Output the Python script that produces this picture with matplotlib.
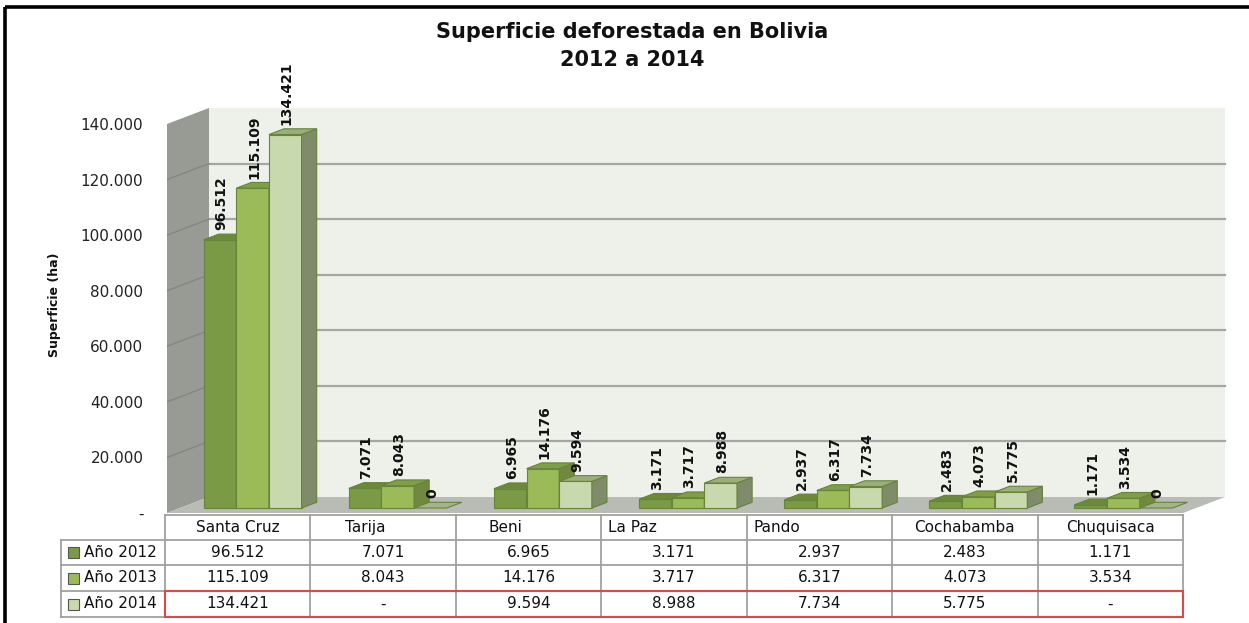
import matplotlib
matplotlib.use("Agg")
import matplotlib.pyplot as plt
from matplotlib.patches import Polygon, Rectangle

departamentos = ["Santa Cruz", "Tarija", "Beni", "La Paz", "Pando", "Cochabamba", "Chuquisaca"]
anios = ["Año 2012", "Año 2013", "Año 2014"]
sup_2012 = [96512, 7071, 6965, 3171, 2937, 2483, 1171]
sup_2013 = [115109, 8043, 14176, 3717, 6317, 4073, 3534]
sup_2014 = [134421, 0, 9594, 8988, 7734, 5775, 0]
y_ticks = [0, 20000, 40000, 60000, 80000, 100000, 120000, 140000]

titulo = "Superficie deforestada en Bolivia\n2012 a 2014"
eje_y = "Superficie (ha)"

# estilo
W, H = 1249, 623
front_col = ["#7b9a45", "#9bbb59", "#c8d9ad"]
top_col = ["#6a8a37", "#7f9f45", "#9aae78"]
side_col = ["#5f7a32", "#71893f", "#7f8b69"]
edge_col = "#66843a"
header_pad = ["center", 35, 33, 7, 7, "center", "center"]


def fmt(v):
    return f"{v:,}".replace(",", ".")


plt.rcParams["font.family"] = ["DejaVu Sans"]
fig = plt.figure(figsize=(W / 100, H / 100), dpi=100)

# capa en pixeles para marco, titulo y tabla
ov = fig.add_axes([0, 0, 1, 1])
ov.set_xlim(0, W)
ov.set_ylim(H, 0)
ov.axis("off")

# ejes principales: categorias en x, superficie en y
x_left, x_right, y_floor, y_top = 167, 1230, 513, 100
px_cat = (1183 - 167) / len(departamentos)
px_val = (513 - 124) / 140000
ax = fig.add_axes([x_left / W, (H - y_floor) / H, (x_right - x_left) / W, (y_floor - y_top) / H])
ax.set_xlim(0, (x_right - x_left) / px_cat)
ax.set_ylim(0, (y_floor - y_top) / px_val)
ax.patch.set_visible(False)
for s in ax.spines.values():
    s.set_visible(False)

DX = 42 / px_cat
DY = 16 / px_val
n = len(departamentos)
vmax = y_ticks[-1]

# paredes y piso
ax.add_patch(Polygon([(0, 0), (0, vmax), (DX, vmax + DY), (DX, DY)], closed=True,
                     facecolor="#989a94", edgecolor="none", zorder=1))
ax.add_patch(Polygon([(DX, DY), (n + DX, DY), (n + DX, vmax + DY), (DX, vmax + DY)], closed=True,
                     facecolor="#eef1ea", edgecolor="none", zorder=1))
ax.add_patch(Polygon([(0, 0), (n, 0), (n + DX, DY), (DX, DY)], closed=True,
                     facecolor="#b9bbb5", edgecolor="none", zorder=2))
for v in y_ticks[1:-1]:
    ax.plot([DX, n + DX], [v + DY, v + DY], color="#a6a6a6", lw=1.6, zorder=2)
    ax.plot([0, DX], [v, v + DY], color="#85877f", lw=1.0, zorder=2)

ax.set_xticks([])
ax.set_yticks(y_ticks)
ax.set_yticklabels(["-" if v == 0 else fmt(v) for v in y_ticks], fontsize=11, color="#222222")
ax.tick_params(axis="y", length=0, pad=17)

# barras 3D
series = [sup_2012, sup_2013, sup_2014]
bw = 0.225
f0, fb = 0.31, 0.36
ox, oy = f0 * DX, f0 * DY
bx, by = fb * DX, fb * DY
for i in range(n):
    for j, vals in enumerate(series):
        h = vals[i]
        x0 = i + 0.5 + (j - 1.5) * bw
        x1 = x0 + bw
        top = [(x0 + ox, h + oy), (x1 + ox, h + oy), (x1 + ox + bx, h + oy + by), (x0 + ox + bx, h + oy + by)]
        if h > 0:
            ax.add_patch(Polygon([(x0 + ox, oy), (x1 + ox, oy), (x1 + ox, h + oy), (x0 + ox, h + oy)],
                                 closed=True, facecolor=front_col[j], edgecolor=edge_col, lw=0.8, zorder=3))
            ax.add_patch(Polygon([(x1 + ox, oy), (x1 + ox + bx, oy + by), (x1 + ox + bx, h + oy + by), (x1 + ox, h + oy)],
                                 closed=True, facecolor=side_col[j], edgecolor=edge_col, lw=0.8, zorder=3))
            ax.add_patch(Polygon(top, closed=True, facecolor=top_col[j], edgecolor=edge_col, lw=0.8, zorder=3))
        else:
            ax.add_patch(Polygon(top, closed=True, facecolor="#a3b38a", edgecolor=edge_col, lw=0.8, zorder=3))
        ax.text(x0 + ox + bw / 2 + 0.1 * bx, h + oy + by + 1400, fmt(h), rotation=90,
                ha="center", va="bottom", fontsize=10, fontweight="bold", color="#111111", zorder=4)

# titulo y etiqueta de eje
ov.text(632, 46, titulo, ha="center", va="center", fontsize=15, fontweight="bold",
        color="#111111", linespacing=1.5)
ov.text(55, 305, eje_y, rotation=90, ha="center", va="center", fontsize=9, fontweight="bold", color="#111111")

# tabla de datos
tab_left, tab_right = 165, 1183
leg_left = 61
rows_y = [515, 539.5, 565, 591, 617]
cell_w = (tab_right - tab_left) / n
grid = "#a0a0a0"
ov.plot([tab_left, tab_right], [rows_y[0], rows_y[0]], color=grid, lw=1.3)
for k in range(1, 5):
    ov.plot([leg_left, tab_right], [rows_y[k], rows_y[k]], color=grid, lw=1.3)
ov.plot([leg_left, leg_left], [rows_y[1], rows_y[4]], color=grid, lw=1.3)
for i in range(n + 1):
    xx = tab_left + i * cell_w
    ov.plot([xx, xx], [rows_y[0], rows_y[4]], color=grid, lw=1.3)

for i, dep in enumerate(departamentos):
    cx = tab_left + i * cell_w
    yc = (rows_y[0] + rows_y[1]) / 2
    if header_pad[i] == "center":
        ov.text(cx + cell_w / 2, yc, dep, ha="center", va="center", fontsize=11, color="#111111")
    else:
        ov.text(cx + header_pad[i], yc, dep, ha="left", va="center", fontsize=11, color="#111111")
    for j, vals in enumerate(series):
        yc = (rows_y[j + 1] + rows_y[j + 2]) / 2
        txt = "-" if vals[i] == 0 else fmt(vals[i])
        ov.text(cx + cell_w / 2, yc, txt, ha="center", va="center", fontsize=11, color="#111111")

for j, name in enumerate(anios):
    yc = (rows_y[j + 1] + rows_y[j + 2]) / 2
    ov.add_patch(Rectangle((68, yc - 5.5), 11, 11, facecolor=front_col[j], edgecolor="#555555", lw=0.8))
    ov.text(84, yc, name, ha="left", va="center", fontsize=11, color="#111111")

# recuadro rojo de la fila 2014
ov.add_patch(Rectangle((tab_left, rows_y[3]), tab_right - tab_left, rows_y[4] - rows_y[3],
                       facecolor="none", edgecolor="#e04848", lw=1.5, zorder=5))

# marco exterior
ov.plot([5, W], [7, 7], color="black", lw=2.6, solid_capstyle="butt")
ov.plot([5, 5], [7, H], color="black", lw=2.6, solid_capstyle="butt")

fig.savefig("out.png", dpi=100)
